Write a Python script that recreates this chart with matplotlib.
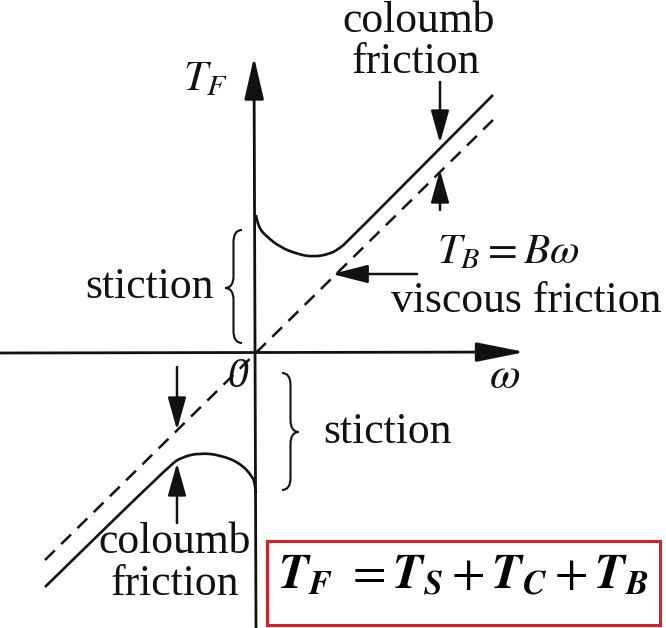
import matplotlib.pyplot as plt
from matplotlib.path import Path
from matplotlib.patches import PathPatch, Rectangle

plt.rcParams["font.family"] = ["Liberation Serif", "DejaVu Serif"]
plt.rcParams["mathtext.fontset"] = "stix"

# friction curve (omega, T_F), 1 unit ~ 10 px
w_pos = [0.0, 0.2, 1.1, 2.4, 4.1, 5.7, 7.4, 8.4, 9.1, 23.7]
t_pos = [13.8, 12.6, 11.6, 10.6, 9.9, 9.6, 9.9, 10.5, 11.1, 25.8]
w_neg = [0.0, -0.1, -0.3, -1.6, -3.6, -5.6, -7.4, -8.6, -21.1]
t_neg = [-14.0, -13.2, -12.4, -11.0, -10.2, -10.0, -10.4, -11.2, -23.4]

# viscous friction T_B = B*omega (dashed)
w_visc = [-21.1, 23.7]
t_visc = [-20.7, 23.3]

INK = "#111111"
TXT = 31.5


def smooth(ax, xs, ys, **kw):
    # quadratic bezier through the midpoints, read points act as controls
    pts = list(zip(xs, ys))
    verts = [pts[0]]
    codes = [Path.MOVETO]
    for i in range(1, len(pts) - 1):
        mid = ((pts[i][0] + pts[i + 1][0]) / 2, (pts[i][1] + pts[i + 1][1]) / 2)
        verts += [pts[i], mid]
        codes += [Path.CURVE3, Path.CURVE3]
    verts.append(pts[-1])
    codes.append(Path.LINETO)
    ax.add_patch(PathPatch(Path(verts, codes), fill=False, **kw))


def brace(ax, x_end, x_tip, y_top, y_bot, y_mid, h=1.2, **kw):
    xs = (x_end + x_tip) / 2
    verts = [
        (x_end, y_top), (xs, y_top), (xs, y_top - h),
        (xs, y_mid + h),
        (xs, y_mid), (x_tip, y_mid),
        (xs, y_mid), (xs, y_mid - h),
        (xs, y_bot + h),
        (xs, y_bot), (x_end, y_bot),
    ]
    codes = [Path.MOVETO, Path.CURVE3, Path.CURVE3, Path.LINETO,
             Path.CURVE3, Path.CURVE3, Path.CURVE3, Path.CURVE3,
             Path.LINETO, Path.CURVE3, Path.CURVE3]
    ax.add_patch(PathPatch(Path(verts, codes), fill=False, **kw))


def arrow(ax, start, tip, hl=0.9, hw=0.25, lw=1.8):
    ax.annotate("", xy=tip, xytext=start,
                arrowprops=dict(arrowstyle=f"-|>,head_length={hl},head_width={hw}",
                                mutation_scale=20, lw=lw, color=INK,
                                fc=INK, shrinkA=0, shrinkB=0))


fig = plt.figure(figsize=(6.66, 6.28), dpi=100)
ax = fig.add_axes([0, 0, 1, 1])
ax.set_xlim(-25.6, 41.0)
ax.set_ylim(-27.5, 35.3)
ax.axis("off")

# axes with arrows
arrow(ax, (-25.6, 0.0), (26.9, 0.1), hl=1.5, hw=0.3, lw=2.0)
arrow(ax, (0.0, -27.5), (-0.2, 29.6), hl=1.3, hw=0.3, lw=2.0)

# curves
smooth(ax, w_pos, t_pos, color=INK, lw=1.9)
smooth(ax, w_neg, t_neg, color=INK, lw=1.9)
ax.plot(w_visc, t_visc, color=INK, lw=1.8, dashes=(5.5, 3.6))

# pointer arrows
arrow(ax, (18.4, 27.1), (18.4, 21.0), hl=1.0, hw=0.28)
arrow(ax, (18.4, 14.3), (18.4, 18.3), hl=1.0, hw=0.28)
arrow(ax, (-7.9, -1.4), (-7.9, -7.7), hl=1.0, hw=0.28)
arrow(ax, (-7.9, -17.0), (-7.9, -11.0), hl=1.0, hw=0.28)
arrow(ax, (16.1, 7.9), (7.6, 7.9), hl=1.1, hw=0.28)

# braces
brace(ax, -1.4, -3.1, 12.3, 1.0, 6.5, color=INK, lw=1.5)
brace(ax, 2.6, 4.3, -2.0, -13.7, -7.9, color=INK, lw=1.5)

# labels
ax.text(-5.0, 27.3, r"$T_F$", fontsize=31, ha="center", va="center", color=INK)
ax.text(24.9, -2.4, r"$\omega$", fontsize=32, ha="center", va="center", color=INK)
ax.text(-1.8, -2.4, "0", fontsize=30, style="italic", ha="center", va="center", color=INK)

ax.text(16.3, 32.1, "coloumb", fontsize=TXT, ha="center", va="baseline", color=INK)
ax.text(16.0, 28.0, "friction", fontsize=TXT, ha="center", va="baseline", color=INK)
ax.text(-8.1, -20.0, "coloumb", fontsize=TXT, ha="center", va="baseline", color=INK)
ax.text(-8.1, -24.2, "friction", fontsize=TXT, ha="center", va="baseline", color=INK)

ax.text(-17.1, 5.5, "stiction", fontsize=TXT, ha="left", va="baseline", color=INK)
ax.text(6.7, -9.0, "stiction", fontsize=TXT, ha="left", va="baseline", color=INK)

ax.text(18.1, 9.0, r"$T_B = B\omega$", fontsize=31, ha="left", va="baseline", color=INK)
ax.text(13.5, 4.1, "viscous friction", fontsize=TXT, ha="left", va="baseline", color=INK)

# boxed formula
ax.add_patch(Rectangle((1.1, -27.2), 39.3, 8.4, fill=False, ec="#dc1e28", lw=2.2))
ax.text(20.75, -23.6, r"$\mathbfit{T_F}\ =\mathbfit{T_S}+\mathbfit{T_C}+\mathbfit{T_B}$",
        fontsize=35, ha="center", va="baseline", color="black")

fig.savefig("out.png", dpi=100)
